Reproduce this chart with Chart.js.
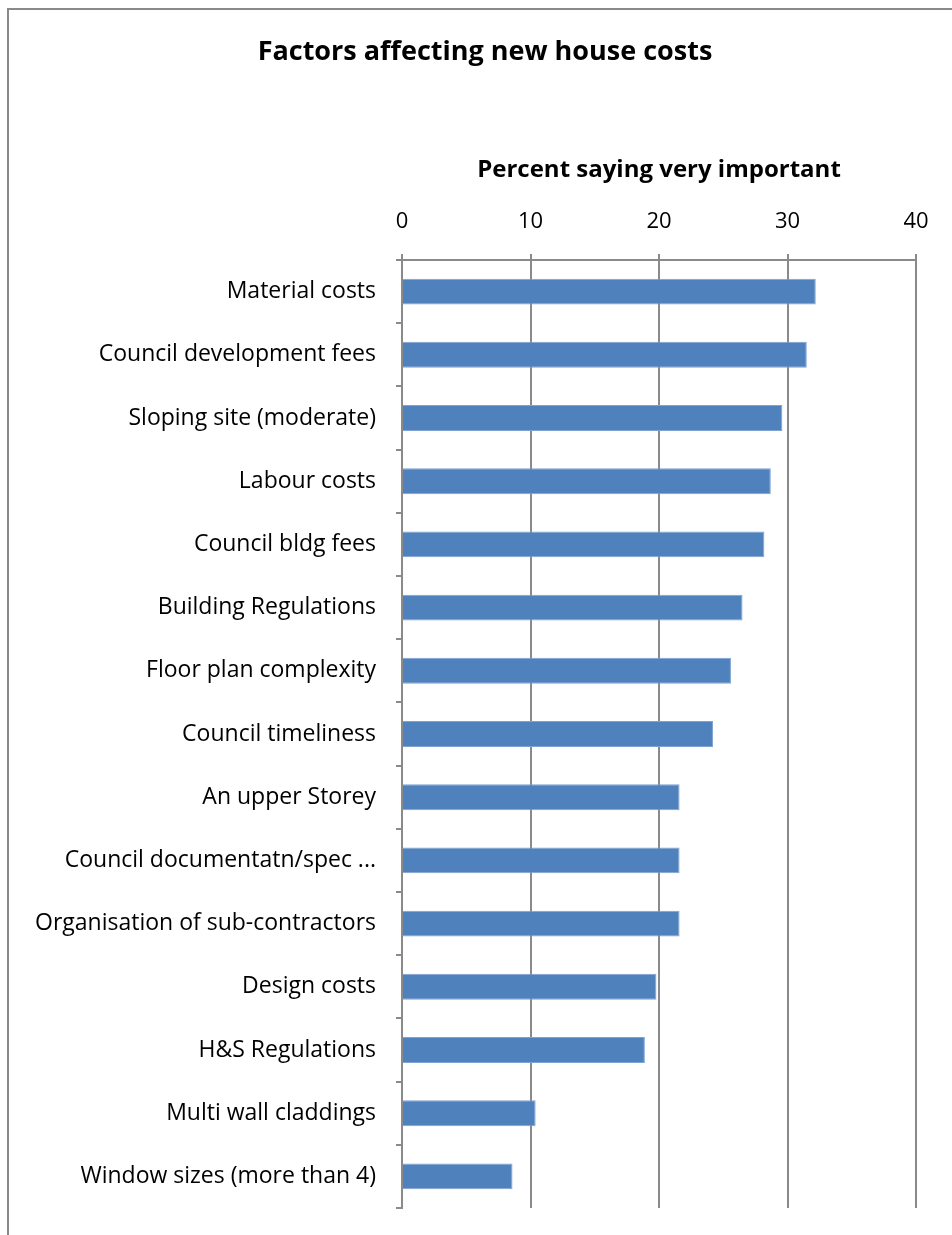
<!DOCTYPE html>
<html>
<head>
<meta charset="utf-8">
<script src="https://cdn.jsdelivr.net/npm/chart.js@4"></script>
<style>
  html, body { margin: 0; padding: 0; background: #fff; overflow: hidden; }
  #frame {
    position: absolute; left: 7px; top: 8px; width: 1000px; height: 1300px;
    border-left: 2px solid #8a8a8a; border-top: 2px solid #8a8a8a;
  }
  #myChart { position: absolute; left: 0; top: 0; }
  #titulo {
    position: absolute; left: 0; top: 34px; width: 970px; text-align: center;
    font-family: "Open Sans", Lato, sans-serif; font-weight: bold; font-size: 27px;
    line-height: 32px; color: #000;
  }
</style>
</head>
<body>
<div id="frame"></div>
<canvas id="myChart" width="952" height="1235"></canvas>
<div id="titulo">Factors affecting new house costs</div>
<script>
// Categorias (de arriba a abajo)
const factores = [
  'Material costs',
  'Council development fees',
  'Sloping site (moderate)',
  'Labour costs',
  'Council bldg fees',
  'Building Regulations',
  'Floor plan complexity',
  'Council timeliness',
  'An upper Storey',
  'Council documentatn/spec ...',
  'Organisation of sub-contractors',
  'Design costs',
  'H&S Regulations',
  'Multi wall claddings',
  'Window sizes (more than 4)'
];

// Porcentaje que dice "muy importante"
const porcentajes = [32.2, 31.5, 29.6, 28.7, 28.2, 26.5, 25.6, 24.2, 21.6, 21.6, 21.6, 19.8, 18.9, 10.4, 8.6];

// Marcas del eje X
const ejeMin = 0;
const ejeMax = 40;
const ejePaso = 10;

const gris = '#8a8a8a';
const fuente = '"Open Sans", Lato, sans-serif';

const context = document.getElementById('myChart');

new Chart(context, {
  type: 'bar',
  data: {
    labels: factores,
    datasets: [{
      label: 'Percent saying very important',
      data: porcentajes,
      backgroundColor: '#4f81bd',
      borderColor: '#7fa2d3',
      borderWidth: 1,
      barPercentage: 0.41,
      categoryPercentage: 1
    }]
  },
  options: {
    indexAxis: 'y',
    responsive: false,
    animation: false,
    layout: { padding: { left: 0, right: 36, top: 0, bottom: 27 } },
    plugins: {
      legend: { display: false },
      tooltip: { enabled: false },
      title: { display: false }
    },
    scales: {
      x: {
        position: 'top',
        min: ejeMin,
        max: ejeMax,
        ticks: {
          stepSize: ejePaso,
          color: '#000',
          padding: 19,
          font: { family: fuente, size: 22 }
        },
        grid: { color: gris, lineWidth: 2, tickLength: 6 },
        border: { display: true, color: gris, width: 2 },
        title: {
          display: true,
          text: 'Percent saying very important',
          color: '#000',
          font: { family: fuente, size: 24, weight: 'bold', lineHeight: 1.2 },
          padding: { top: 155.6, bottom: 0 }
        },
        afterFit: function (scale) { scale.height = 260; }
      },
      y: {
        ticks: {
          color: '#000',
          padding: 20,
          autoSkip: false,
          font: { family: fuente, size: 23 }
        },
        grid: { drawOnChartArea: false, color: gris, lineWidth: 2, tickLength: 6, offset: true },
        border: { display: true, color: gris, width: 2 },
        afterFit: function (scale) {
          scale.width = 402;
          scale.paddingTop = 0;
          scale.paddingBottom = 0;
        }
      }
    }
  }
});
</script>
</body>
</html>
